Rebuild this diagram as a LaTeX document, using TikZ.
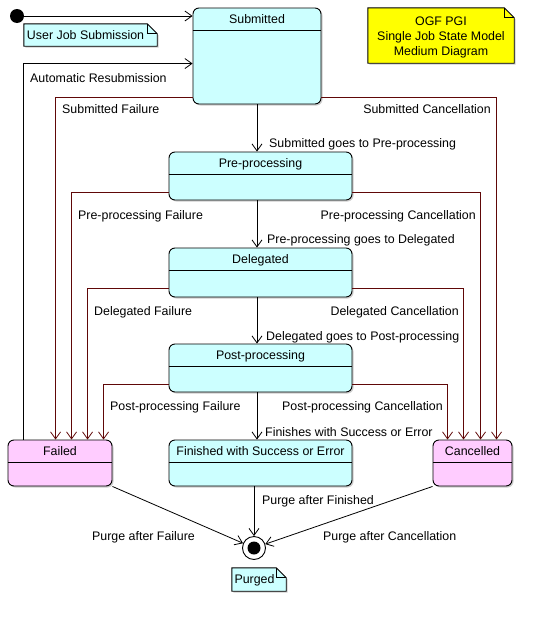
\documentclass[tikz,border=0pt]{standalone}
\usepackage{fontspec}
\setmainfont{Liberation Sans}
\usetikzlibrary{arrows.meta, shadows}

\definecolor{statecyan}{RGB}{204,255,255}
\definecolor{endpink}{RGB}{255,204,255}
\definecolor{notecyan}{RGB}{204,255,255}
\definecolor{noteyellow}{RGB}{255,255,0}
\definecolor{linered}{RGB}{96,8,8}

\begin{document}
\begin{tikzpicture}[
      x=1pt, y=-1pt,
      font=\fontsize{12.4}{15}\selectfont,
      >={Straight Barb[length=7pt,width=10pt]},
      state/.style={draw,rounded corners=6pt,inner sep=0pt,line width=0.9pt,
        drop shadow={shadow xshift=1.5pt,shadow yshift=-1.5pt,opacity=0.4}},
      divider/.style={line width=0.9pt},
      notebox/.style={draw,line width=0.9pt,line join=miter,
        drop shadow={shadow xshift=1.5pt,shadow yshift=-1.5pt,opacity=0.4}},
      init/.style={circle,fill=black,minimum size=14pt,inner sep=0pt},
      final/.style={circle,draw,fill=white,minimum size=23pt,inner sep=0pt,line width=0.9pt},
      trans/.style={->,line width=0.8pt},
      fail/.style={trans,draw=linered},
      lbl/.style={anchor=base west,inner sep=0pt},
      lblr/.style={anchor=base east,inner sep=0pt}
      ]
      \useasboundingbox (0,0) rectangle (545,635);
      % states
      \foreach \n/\cx/\cy/\w/\h/\c/\t in {
          sub/257/56/128/96/statecyan/Submitted,
          pre/260.5/176/183/48/statecyan/Pre-processing,
          deleg/260.5/272.5/183/49/statecyan/Delegated,
          post/260.5/368/183/48/statecyan/Post-processing,
          failed/60/463/104/46/endpink/Failed,
          fin/260.5/463/183/46/statecyan/Finished with Success or Error,
          canc/472.5/463/79/46/endpink/Cancelled} {
          \node [state,fill=\c,minimum width=\w pt,minimum height=\h pt] (\n) at (\cx,\cy) {};
          \node [anchor=base,inner sep=0pt] (\n title) at ([yshift=-15.5pt]\n.north) {\t};
          \draw [divider] ([yshift=-23pt]\n.north west) -- ([yshift=-23pt]\n.north east);
      }
      % start and end
      \node [init] (start) at (17,16) {};
      \node [final] (final) at (254,548) {};
      \fill (final.center) circle [radius=6.5pt];
      % notes
      \path (90.5,35) node [minimum width=133pt,minimum height=22pt,inner sep=0pt] (usernote) {};
      \path (441,35.5) node [minimum width=146pt,minimum height=55pt,inner sep=0pt] (titlenote) {};
      \path (259,579.5) node [minimum width=54pt,minimum height=23pt,inner sep=0pt] (purgenote) {};
      \foreach \n/\c in {usernote/notecyan,titlenote/noteyellow,purgenote/notecyan} {
          \filldraw [notebox,fill=\c] (\n.south west) -- (\n.north west) -- ([xshift=-10pt]\n.north east)
            -- ([yshift=-10pt]\n.north east) -- (\n.south east) -- cycle;
          \draw [line width=0.9pt] ([xshift=-10pt]\n.north east) -- ++(0,10) -- ([yshift=-10pt]\n.north east);
      }
      \node [anchor=west,inner sep=0pt] (usertext) at ([xshift=3pt]usernote.west) {User Job Submission};
      \node [align=center,inner sep=0pt] (titletext) at (441,37) {OGF PGI\\Single Job State Model\\Medium Diagram};
      \node [anchor=west,inner sep=0pt] (purgetext) at ([xshift=2.5pt,yshift=-1pt]purgenote.west) {Purged};
      % submission
      \draw [trans] (start) -- (start -| sub.west);
      \draw [trans] ([xshift=16pt]failed.north west) |- ([yshift=-56pt]sub.north west);
      % main flow
      \draw [trans] (sub.south) -- (sub.south |- pre.north);
      \draw [trans] (pre.south -| sub.south) -- (deleg.north -| sub.south);
      \draw [trans] (deleg.south -| sub.south) -- (post.north -| sub.south);
      \draw [trans] (post.south -| sub.south) -- (fin.north -| sub.south);
      % failures
      \foreach \s/\dy/\dx in {sub/7/48,pre/8/64,deleg/9/80,post/8/96} {
          \draw [fail] ([yshift=\dy pt]\s.south west) -| ([xshift=\dx pt]failed.north west);
      }
      % cancellations
      \foreach \s/\dy/\dx in {sub/7/64,pre/8/48,deleg/9/31,post/8/15} {
          \draw [fail] ([yshift=\dy pt]\s.south east) -| ([xshift=\dx pt]canc.north west);
      }
      % purge
      \draw [trans] (failed.south east) -- (final);
      \draw [trans] (fin.south -| final) -- (final);
      \draw [trans] (canc.south west) -- (final);
      % labels
      \node [lbl] (auto label) at (30,82) {Automatic Resubmission};
      \node [lbl] (subfail label) at (62,113) {Submitted Failure};
      \node [lblr] (subcanc label) at (491,113) {Submitted Cancellation};
      \node [lbl] (subgo label) at (269,147) {Submitted goes to Pre-processing};
      \node [lbl] (prefail label) at (78,219) {Pre-processing Failure};
      \node [lblr] (precanc label) at (476,219) {Pre-processing Cancellation};
      \node [lbl] (prego label) at (267,243) {Pre-processing goes to Delegated};
      \node [lbl] (delfail label) at (94,315) {Delegated Failure};
      \node [lblr] (delcanc label) at (459,315) {Delegated Cancellation};
      \node [lbl] (delgo label) at (266,340) {Delegated goes to Post-processing};
      \node [lbl] (postfail label) at (110,410) {Post-processing Failure};
      \node [lblr] (postcanc label) at (443,410) {Post-processing Cancellation};
      \node [lbl] (postgo label) at (265,436) {Finishes with Success or Error};
      \node [lbl] (finpurge label) at (262,504) {Purge after Finished};
      \node [lbl] (failpurge label) at (92,540) {Purge after Failure};
      \node [lbl] (cancpurge label) at (323,540) {Purge after Cancellation};
\end{tikzpicture}
\end{document}
